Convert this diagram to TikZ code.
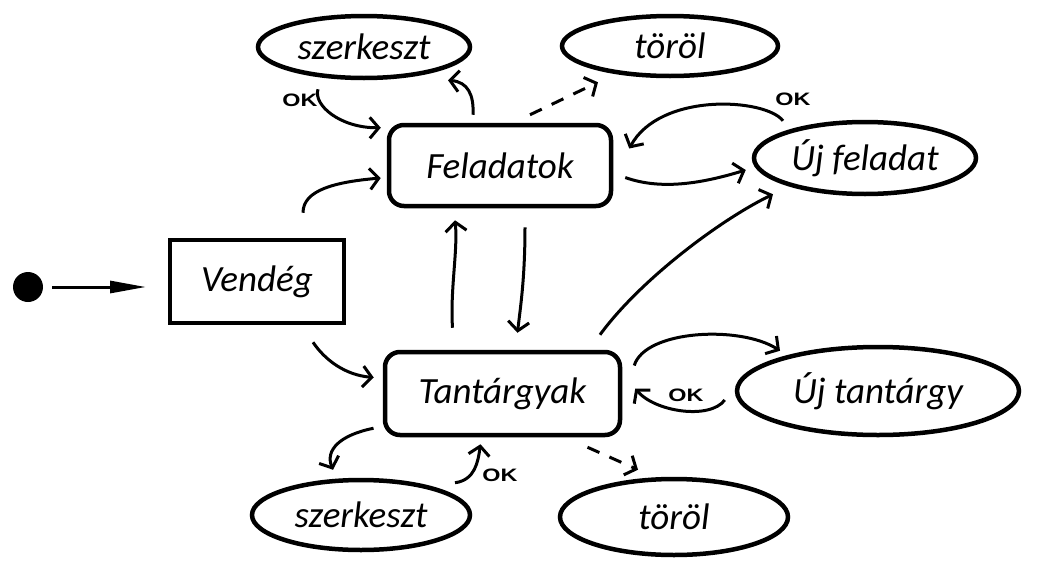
\documentclass[tikz,border=0pt]{standalone}
\usepackage{fontspec}
\setmainfont{Carlito}
\newfontfamily\okfont{Liberation Sans}
\usetikzlibrary{arrows.meta,shapes.geometric}
\begin{document}
\begin{tikzpicture}[x=1pt,y=-1pt,
  lbl/.style={font=\fontsize{37}{42}\selectfont\itshape},
  statebox/.style={draw,line width=4.5pt,lbl,inner sep=0pt},
  roundbox/.style={statebox,rounded corners=15pt},
  oval/.style={draw,ellipse,line width=4.5pt,lbl,inner sep=0pt},
  arr/.style={line width=3pt,-{Straight Barb[length=9pt,width=21pt,line width=3pt]}},
  dsh/.style={arr,dash pattern=on 13pt off 11pt},
  oklbl/.style={font=\okfont\bfseries\fontsize{18}{19}\selectfont,xscale=1.3,inner sep=0pt}
]
\useasboundingbox (0,0) rectangle (1037,584);

\node[circle,fill,minimum size=30pt,inner sep=0pt] (start) at (28,287) {};
\node[statebox,minimum width=174pt,minimum height=83pt] (ven) at (257,281.5) {Vendég};
\node[roundbox,minimum width=222pt,minimum height=81pt] (fel) at (500,165.5) {Feladatok};
\node[roundbox,minimum width=235pt,minimum height=83pt] (tan) at (502.5,393.5) {Tantárgyak};
\node[oval,minimum width=212pt,minimum height=62pt] (szf) at (364,47) {szerkeszt};
\node[oval,minimum width=216pt,minimum height=60pt] (torf) at (670,46) {töröl};
\node[oval,minimum width=222pt,minimum height=72pt] (ujf) at (865,158) {Új feladat};
\node[oval,minimum width=282pt,minimum height=88pt] (ujt) at (878,391) {Új tantárgy};
\node[oval,minimum width=218pt,minimum height=70pt] (szt) at (361,515) {szerkeszt};
\node[oval,minimum width=228pt,minimum height=76pt] (tort) at (674,517) {töröl};

\node[oklbl] (ok1) at (300,100) {OK};
\node[oklbl] (ok2) at (793,99) {OK};
\node[oklbl] (ok3) at (686,395) {OK};
\node[oklbl] (ok4) at (500,475) {OK};

% initial transition
\draw[line width=3pt,-{Triangle[length=36pt,width=12pt]}] (start) ++(24,0) -- ++(94,0);

% Vendeg -> Feladatok / Tantargyak
\draw[arr] ([shift={(46,-25)}]ven.north) .. controls (303,190) and (335,182) .. ([shift={(-6,12.5)}]fel.west);
\draw[arr] ([shift={(56,17)}]ven.south) .. controls (325,360) and (345,375) .. ([shift={(-9,-16)}]tan.west);

% Feladatok group
\draw[arr] ([shift={(-46,9)}]szf.south) .. controls (313,105) and (340,128) .. ([shift={(-6,5)}]fel.north west);
\draw[arr] ([shift={(-27,-8)}]fel.north) .. controls (474,95) and (468,82) .. ([shift={(84,0)}]szf.south);
\draw[dsh] ([shift={(30,-8)}]fel.north) -- ([shift={(-72,4)}]torf.south);
\draw[arr] ([shift={(-82,1)}]ujf.north) .. controls (765,98) and (660,92) .. ([shift={(16,-17)}]fel.east);
\draw[arr] ([shift={(12,12)}]fel.east) .. controls (660,190) and (700,184) .. ([shift={(-6,12)}]ujf.west);

% between Feladatok and Tantargyak
\draw[arr] ([shift={(97.5,-15)}]tan.north) .. controls (640,280) and (720,220) .. ([shift={(-92,-2)}]ujf.south);
\draw[arr] ([shift={(-50,-22)}]tan.north) .. controls (450,290) and (458,250) .. ([shift={(-45,12)}]fel.south);
\draw[arr] ([shift={(25,19)}]fel.south) .. controls (525,280) and (520,310) .. ([shift={(15,-17)}]tan.north);

% Tantargyak group
\draw[arr] ([shift={(12,-28)}]tan.east) .. controls (645,330) and (740,325) .. ([shift={(-98,6)}]ujt.north);
\draw[arr] ([shift={(-10,9)}]ujt.west) .. controls (710,420) and (655,412) .. ([shift={(13,-5)}]tan.east);
\draw[arr] ([shift={(-129,-9)}]tan.south) .. controls (340,435) and (325,450) .. ([shift={(-28,-8)}]szt.north);
\draw[arr] ([shift={(94,5)}]szt.north) .. controls (475,480) and (478,462) .. ([shift={(-22,7)}]tan.south);
\draw[dsh] ([shift={(85,10)}]tan.south) -- ([shift={(-36,-7)}]tort.north);
\end{tikzpicture}
\end{document}
